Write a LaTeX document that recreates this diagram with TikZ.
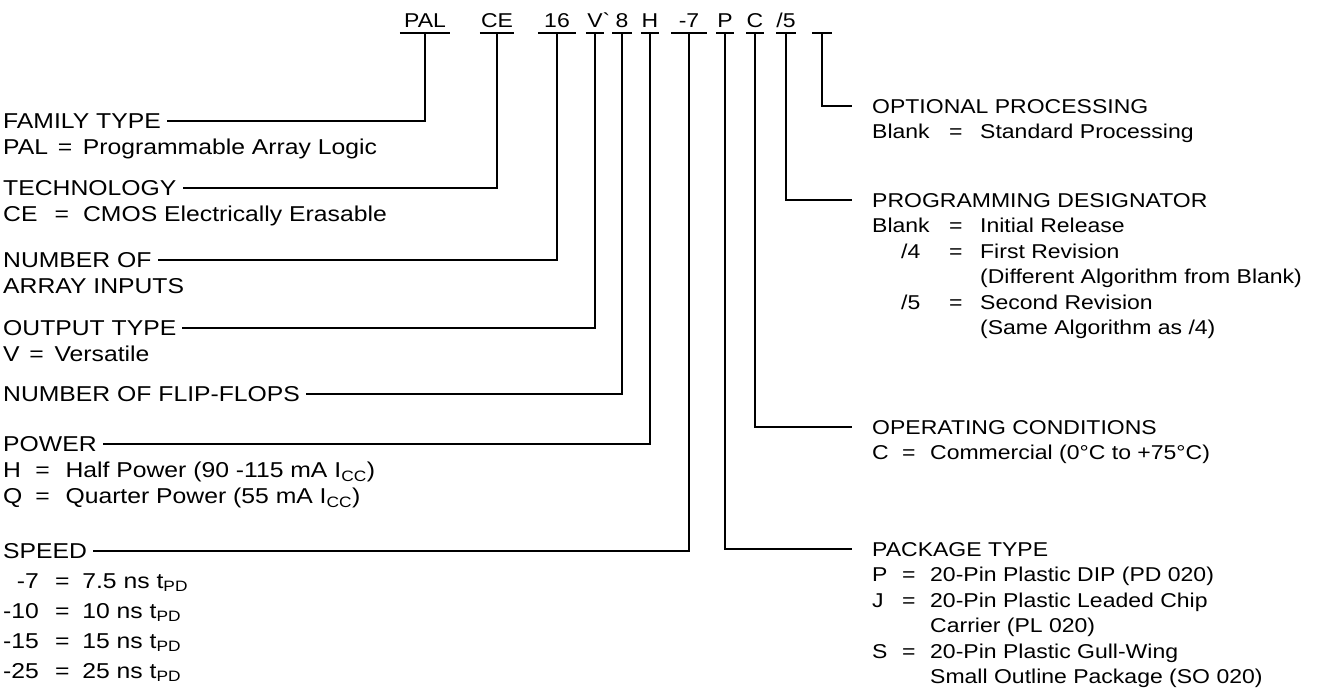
\documentclass[tikz,border=0pt]{standalone}
\usepackage{fontspec}
\setmainfont[FakeStretch=1.15]{Liberation Sans}
\usetikzlibrary{positioning}
\tikzset{
  code/.style={font=\fontsize{20}{24}\selectfont,inner xsep=0pt,inner ysep=6pt,text height=14pt,text depth=0pt},
  hdr/.style={anchor=west,inner xsep=6pt,inner ysep=0pt,text height=14.5pt,text depth=0pt},
  lfont/.style={font=\fontsize{21.5}{26}\selectfont},
  rfont/.style={font=\fontsize{20}{25.5}\selectfont},
  lst/.style={inner sep=0pt},
  bar/.style={line width=1.6pt},
  lead/.style={line width=1.4pt},
  rlead/.style={line width=1.4pt,shorten >=14pt}
}

\begin{document}
\begin{tikzpicture}[x=1pt,y=-1pt]
\useasboundingbox (0,0) rectangle (1325,691);
% part number
\node[code,minimum width=50pt] (cPAL) at (425,20) {PAL};
\node[code,minimum width=34pt] (cCE) at (497,20) {CE};
\node[code,minimum width=38pt] (c16) at (557,20) {16};
\node[code,minimum width=18pt] (cV) at (595,20) {V\rlap{\textasciigrave}};
\node[code,minimum width=19pt] (c8) at (622,20) {8};
\node[code,minimum width=18pt] (cH) at (650,20) {H};
\node[code,minimum width=35pt] (c7) at (689,20) {-7};
\node[code,minimum width=17pt] (cP) at (725,20) {P};
\node[code,minimum width=17pt] (cC) at (755,20) {C};
\node[code,minimum width=18pt] (c5) at (786,20) {/5};
\node[code,minimum width=20pt] (cX) at (822,20) {};
\foreach \c in {cPAL,cCE,c16,cV,c8,cH,c7,cP,cC,c5,cX}
  \draw[bar] (\c.south west) -- (\c.south east);

% left side
\node[hdr,lfont] (famHdr) at (-3,121) {FAMILY TYPE};
\node[lst,lfont,below right=7.8pt and 6pt of famHdr.south west] (famLst) {%
  \begin{tabular}{@{}l@{}}PAL\hspace{0.45em}=\hspace{0.5em}Programmable Array Logic\end{tabular}};
\node[hdr,lfont] (techHdr) at (-3,188) {TECHNOLOGY};
\node[lst,lfont,below right=7.8pt and 6pt of techHdr.south west] (techLst) {%
  \begin{tabular}{@{}l@{}}CE\hspace{0.8em}=\hspace{0.65em}CMOS Electrically Erasable\end{tabular}};
\node[hdr,lfont] (numHdr) at (-3,260) {NUMBER OF};
\node[lst,lfont,below right=7.8pt and 6pt of numHdr.south west] (numLst) {%
  \begin{tabular}{@{}l@{}}ARRAY INPUTS\end{tabular}};
\node[hdr,lfont] (outHdr) at (-3,328) {OUTPUT TYPE};
\node[lst,lfont,below right=7.8pt and 6pt of outHdr.south west] (outLst) {%
  \begin{tabular}{@{}l@{}}V\hspace{0.45em}=\hspace{0.5em}Versatile\end{tabular}};
\node[hdr,lfont] (ffHdr) at (-3,394) {NUMBER OF FLIP-FLOPS};
\node[hdr,lfont] (powHdr) at (-3,444) {POWER};
\node[lst,lfont,below right=7.8pt and 6pt of powHdr.south west] (powLst) {%
  \begin{tabular}{@{}p{1.5em}@{}p{1.4em}@{}l@{}}
  H & = & Half Power (90 -115 mA I\textsubscript{CC})\\
  Q & = & Quarter Power (55 mA I\textsubscript{CC})
  \end{tabular}};
\node[hdr,lfont] (spdHdr) at (-3,551) {SPEED};
\node[lst,lfont,below right=9pt and 6pt of spdHdr.south west] (spdLst) {%
  \renewcommand\arraystretch{1.154}%
  \begin{tabular}{@{}r@{\hspace{0.75em}}c@{\hspace{0.6em}}l@{}}
  -7 & = & 7.5 ns t\textsubscript{PD}\\
  -10 & = & 10 ns t\textsubscript{PD}\\
  -15 & = & 15 ns t\textsubscript{PD}\\
  -25 & = & 25 ns t\textsubscript{PD}
  \end{tabular}};

% right side
\node[hdr,rfont] (optHdr) at (866,106) {OPTIONAL PROCESSING};
\node[lst,rfont,below right=7pt and 6pt of optHdr.south west] (optLst) {%
  \begin{tabular}{@{}p{3.85em}@{}p{1.55em}@{}l@{}}
  Blank & = & Standard Processing
  \end{tabular}};
\node[hdr,rfont] (progHdr) at (866,200) {PROGRAMMING DESIGNATOR};
\node[lst,rfont,below right=7pt and 6pt of progHdr.south west] (progLst) {%
  \begin{tabular}{@{}p{3.85em}@{}p{1.55em}@{}l@{}}
  Blank & = & Initial Release\\
  \hspace*{1.45em}/4 & = & First Revision\\
  & & (Different Algorithm from Blank)\\
  \hspace*{1.45em}/5 & = & Second Revision\\
  & & (Same Algorithm as /4)
  \end{tabular}};
\node[hdr,rfont] (operHdr) at (866,427) {OPERATING CONDITIONS};
\node[lst,rfont,below right=7pt and 6pt of operHdr.south west] (operLst) {%
  \begin{tabular}{@{}p{1.5em}@{}p{1.4em}@{}l@{}}
  C & = & Commercial (0°C to +75°C)
  \end{tabular}};
\node[hdr,rfont] (pkgHdr) at (866,549) {PACKAGE TYPE};
\node[lst,rfont,below right=7pt and 6pt of pkgHdr.south west] (pkgLst) {%
  \begin{tabular}{@{}p{1.5em}@{}p{1.4em}@{}l@{}}
  P & = & 20-Pin Plastic DIP (PD 020)\\
  J & = & 20-Pin Plastic Leaded Chip\\
  & & Carrier (PL 020)\\
  S & = & 20-Pin Plastic Gull-Wing\\
  & & Small Outline Package (SO 020)
  \end{tabular}};

% leads
\draw[lead] (cPAL.south) |- (famHdr.east);
\draw[lead] (cCE.south) |- (techHdr.east);
\draw[lead] (c16.south) |- (numHdr.east);
\draw[lead] (cV.south) |- (outHdr.east);
\draw[lead] (c8.south) |- (ffHdr.east);
\draw[lead] (cH.south) |- (powHdr.east);
\draw[lead] (c7.south) |- (spdHdr.east);
\draw[rlead] (cP.south) |- (pkgHdr.west);
\draw[rlead] (cC.south) |- (operHdr.west);
\draw[rlead] (c5.south) |- (progHdr.west);
\draw[rlead] (cX.south) |- (optHdr.west);
\end{tikzpicture}
\end{document}
